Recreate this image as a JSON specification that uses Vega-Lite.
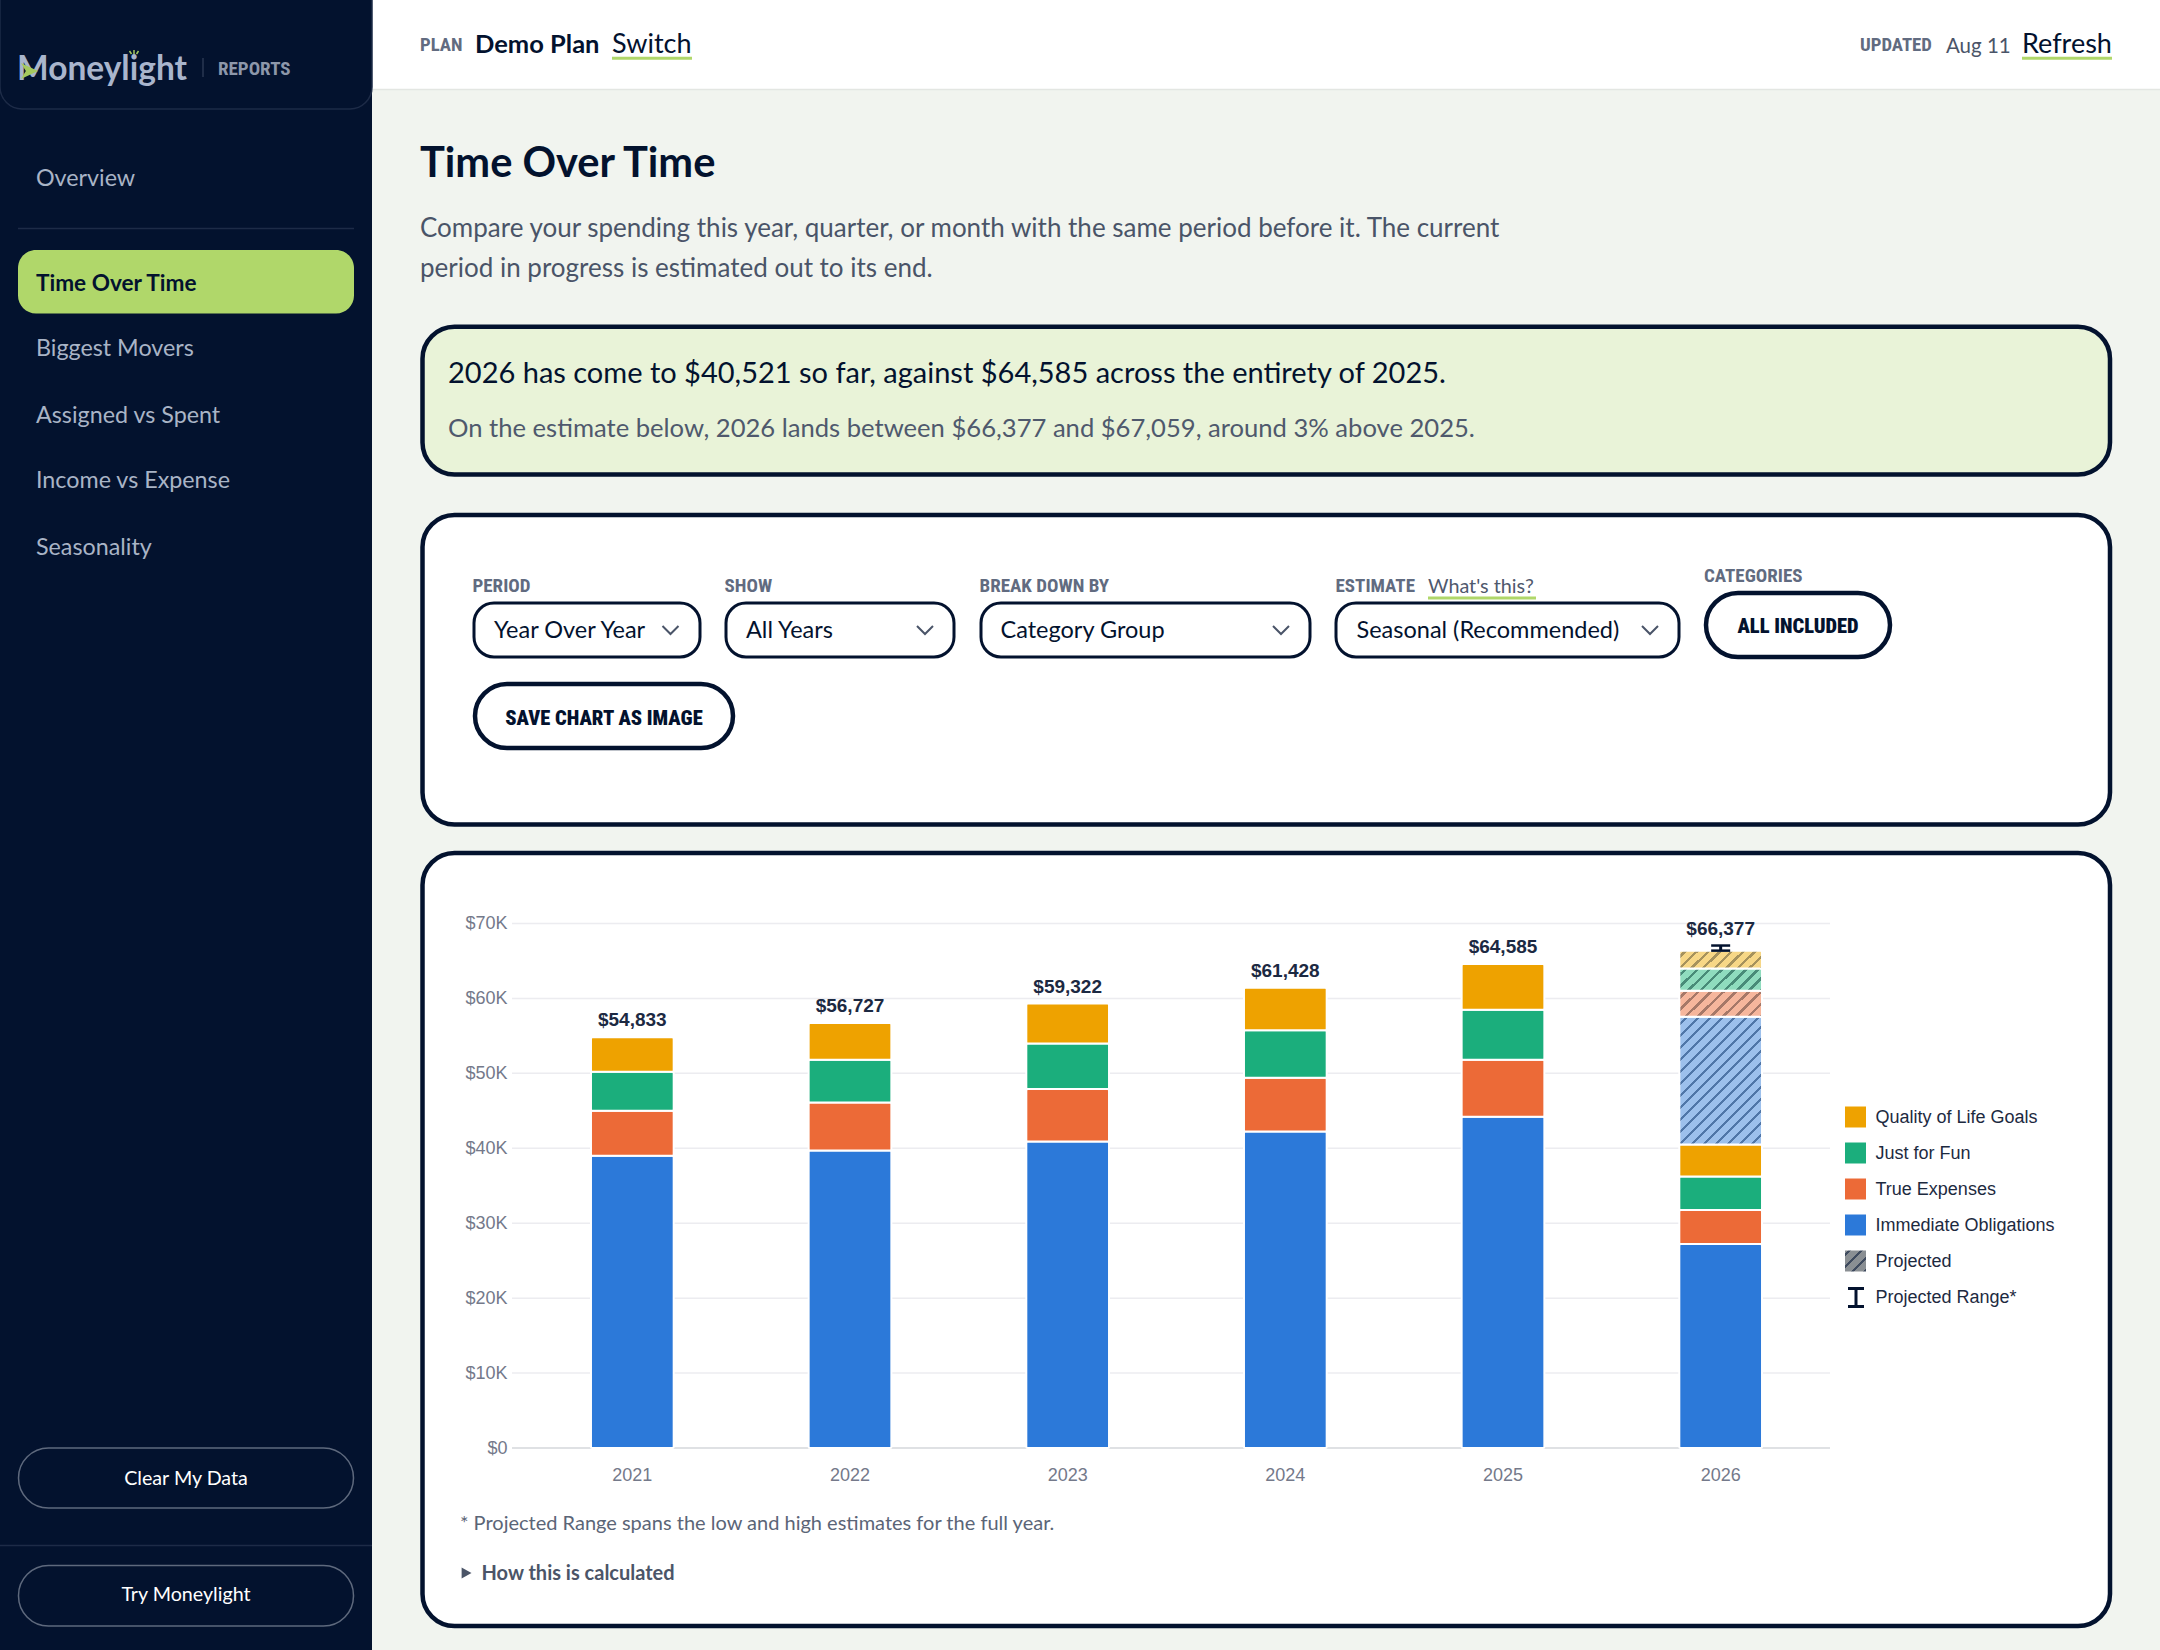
{
  "$schema": "https://vega.github.io/schema/vega-lite/v6.json",
  "width": 1318,
  "height": 524.5,
  "autosize": {"type": "none"},
  "padding": {"left": 512, "top": 923.5, "right": 330, "bottom": 202},
  "background": "#f1f4ef",
  "config": {"view": {"stroke": null}},
  "resolve": {"scale": {"x": "independent", "y": "independent"}, "axis": {"x": "independent", "y": "independent"}},
  "layer": [
    {
      "encoding": {
        "x": {"field": "left", "type": "quantitative", "axis": null, "scale": {"domain": [0, 2160], "range": [-512, 1648]}},
        "y": {"field": "top", "type": "quantitative", "axis": null, "scale": {"domain": [0, 1650], "range": [-923.5, 726.5]}},
        "x2": {"field": "right"},
        "y2": {"field": "bottom"}
      },
      "layer": [
        {
          "data": {"values": [{"left": 0, "right": 372, "top": 0, "bottom": 1650}]},
          "mark": {"type": "rect", "fill": "#03122e"}
        },
        {
          "data": {"values": [{"left": 372, "right": 2160, "top": 0, "bottom": 89}]},
          "mark": {"type": "rect", "fill": "#ffffff"}
        },
        {
          "data": {"values": [{"left": 372, "right": 2160, "top": 89.5, "bottom": 89.5}]},
          "mark": {"type": "rule", "stroke": "#e3e6e2", "strokeWidth": 1.5}
        },
        {
          "data": {"values": [{"left": 0, "right": 372, "top": -40, "bottom": 109}]},
          "mark": {"type": "rect", "fill": "#03122e", "stroke": "#1d2b47", "strokeWidth": 1.5, "cornerRadius": 22}
        },
        {
          "data": {"values": [
            {"left": 18, "right": 354, "top": 228.5, "bottom": 228.5},
            {"left": 0, "right": 372, "top": 1545.5, "bottom": 1545.5}
          ]},
          "mark": {"type": "rule", "stroke": "#1d2b47", "strokeWidth": 1.5}
        },
        {
          "data": {"values": [{"left": 203, "right": 203, "top": 58, "bottom": 77}]},
          "mark": {"type": "rule", "stroke": "#2a3752", "strokeWidth": 1.5}
        },
        {
          "data": {"values": [{"left": 18, "right": 354, "top": 250, "bottom": 313.5}]},
          "mark": {"type": "rect", "fill": "#b0d76a", "cornerRadius": 18}
        },
        {
          "data": {"values": [
            {"left": 18.5, "right": 353.5, "top": 1448, "bottom": 1508},
            {"left": 18.5, "right": 353.5, "top": 1565.5, "bottom": 1626}
          ]},
          "mark": {"type": "rect", "fill": "#03122e", "stroke": "#5e697d", "strokeWidth": 1.5, "cornerRadius": 30}
        },
        {
          "data": {"values": [{"left": 422.5, "right": 2110, "top": 326.7, "bottom": 474.5}]},
          "mark": {"type": "rect", "fill": "#e9f3d8", "stroke": "#03122e", "strokeWidth": 4.5, "cornerRadius": 32}
        },
        {
          "data": {"values": [
            {"left": 422.5, "right": 2110, "top": 515, "bottom": 824.5},
            {"left": 422.5, "right": 2110, "top": 853, "bottom": 1626}
          ]},
          "mark": {"type": "rect", "fill": "#ffffff", "stroke": "#03122e", "strokeWidth": 4.5, "cornerRadius": 32}
        },
        {
          "data": {"values": [
            {"left": 474, "right": 700, "top": 603, "bottom": 657},
            {"left": 726, "right": 954, "top": 603, "bottom": 657},
            {"left": 981, "right": 1310, "top": 603, "bottom": 657},
            {"left": 1336, "right": 1679, "top": 603, "bottom": 657}
          ]},
          "mark": {"type": "rect", "fill": "#ffffff", "stroke": "#03122e", "strokeWidth": 3, "cornerRadius": 20}
        },
        {
          "data": {"values": [
            {"left": 1706, "right": 1890, "top": 593, "bottom": 657},
            {"left": 475, "right": 733, "top": 684, "bottom": 748}
          ]},
          "mark": {"type": "rect", "fill": "#ffffff", "stroke": "#03122e", "strokeWidth": 4.5, "cornerRadius": 32}
        },
        {
          "data": {"values": [
            {"left": 612, "right": 692, "top": 58.3, "bottom": 58.3},
            {"left": 2022, "right": 2112, "top": 58.3, "bottom": 58.3},
            {"left": 1428, "right": 1536, "top": 598, "bottom": 598}
          ]},
          "mark": {"type": "rule", "stroke": "#b0d76a", "strokeWidth": 3}
        },
        {
          "data": {"values": [
            {"left": 670.5, "top": 630},
            {"left": 925, "top": 630},
            {"left": 1281, "top": 630},
            {"left": 1650, "top": 630}
          ]},
          "mark": {"type": "point", "shape": "M-1,-0.5L0,0.5L1,-0.5", "size": 256, "filled": false, "stroke": "#4a5468", "strokeWidth": 2, "opacity": 1}
        },
        {
          "data": {"values": [{"left": 466, "top": 1573}]},
          "mark": {"type": "point", "shape": "M-0.8,-1L1,0L-0.8,1Z", "size": 121, "filled": true, "fill": "#4b5568", "opacity": 1}
        },
        {
          "data": {"values": [{"text": "Moneylight", "left": 17, "top": 69.5}]},
          "mark": {"type": "text", "font": "Lato", "fontSize": 33.5, "fontWeight": "bold", "align": "left", "baseline": "middle", "fill": "#a9b5cc"},
          "encoding": {"text": {"field": "text"}}
        },
        {
          "data": {"values": [{"left": 29, "top": 71}]},
          "mark": {"type": "point", "shape": "M-0.9,-0.9L1,0L-0.9,0.9L-0.35,0Z", "size": 324, "filled": true, "fill": "#a5c95e", "opacity": 1}
        },
        {
          "data": {"values": [
            {"left": 129.5, "right": 131.5, "top": 51, "bottom": 54},
            {"left": 134, "right": 134, "top": 50, "bottom": 54},
            {"left": 138.5, "right": 136.5, "top": 51, "bottom": 54}
          ]},
          "mark": {"type": "rule", "stroke": "#a5c95e", "strokeWidth": 1.5}
        },
        {
          "data": {"values": [{"text": "REPORTS", "left": 218, "top": 68.5}]},
          "mark": {"type": "text", "font": "Roboto Condensed, Roboto", "fontSize": 19, "fontWeight": "bold", "align": "left", "baseline": "middle", "fill": "#8d97aa"},
          "encoding": {"text": {"field": "text"}}
        },
        {
          "data": {"values": [
            {"text": "Overview", "left": 36, "top": 179.4},
            {"text": "Biggest Movers", "left": 36, "top": 349.4},
            {"text": "Assigned vs Spent", "left": 36, "top": 415.9},
            {"text": "Income vs Expense", "left": 36, "top": 481.4},
            {"text": "Seasonality", "left": 36, "top": 547.9}
          ]},
          "mark": {"type": "text", "font": "Lato", "fontSize": 23.3, "align": "left", "baseline": "middle", "fill": "#a9b4c6"},
          "encoding": {"text": {"field": "text"}}
        },
        {
          "data": {"values": [{"text": "Time Over Time", "left": 36, "top": 283.9}]},
          "mark": {"type": "text", "font": "Lato", "fontSize": 22.6, "fontWeight": "bold", "align": "left", "baseline": "middle", "fill": "#03122e"},
          "encoding": {"text": {"field": "text"}}
        },
        {
          "data": {"values": [
            {"text": "Clear My Data", "left": 186, "top": 1479.4},
            {"text": "Try Moneylight", "left": 186, "top": 1595}
          ]},
          "mark": {"type": "text", "font": "Lato", "fontSize": 19.7, "align": "center", "baseline": "middle", "fill": "#ffffff"},
          "encoding": {"text": {"field": "text"}}
        },
        {
          "data": {"values": [
            {"text": "PLAN", "left": 420, "top": 44.5},
            {"text": "UPDATED", "left": 1860, "top": 44.5}
          ]},
          "mark": {"type": "text", "font": "Roboto Condensed, Roboto", "fontSize": 18.8, "fontWeight": "bold", "align": "left", "baseline": "middle", "fill": "#616b80"},
          "encoding": {"text": {"field": "text"}}
        },
        {
          "data": {"values": [
            {"text": "PERIOD", "left": 472.5, "top": 586},
            {"text": "SHOW", "left": 724.5, "top": 586},
            {"text": "BREAK DOWN BY", "left": 979.5, "top": 586},
            {"text": "ESTIMATE", "left": 1335.5, "top": 586},
            {"text": "CATEGORIES", "left": 1704, "top": 576}
          ]},
          "mark": {"type": "text", "font": "Roboto Condensed, Roboto", "fontSize": 19, "fontWeight": "bold", "align": "left", "baseline": "middle", "fill": "#616b80"},
          "encoding": {"text": {"field": "text"}}
        },
        {
          "data": {"values": [{"text": "Demo Plan", "left": 475, "top": 45.4}]},
          "mark": {"type": "text", "font": "Lato", "fontSize": 25.5, "fontWeight": "bold", "align": "left", "baseline": "middle", "fill": "#03122e"},
          "encoding": {"text": {"field": "text"}}
        },
        {
          "data": {"values": [
            {"text": "Switch", "left": 612, "top": 45.4},
            {"text": "Refresh", "left": 2022, "top": 45.4}
          ]},
          "mark": {"type": "text", "font": "Lato", "fontSize": 27, "align": "left", "baseline": "middle", "fill": "#03122e"},
          "encoding": {"text": {"field": "text"}}
        },
        {
          "data": {"values": [{"text": "Aug 11", "left": 1946, "top": 47}]},
          "mark": {"type": "text", "font": "Lato", "fontSize": 20.5, "align": "left", "baseline": "middle", "fill": "#4a5468"},
          "encoding": {"text": {"field": "text"}}
        },
        {
          "data": {"values": [{"text": "Time Over Time", "left": 420, "top": 165.4}]},
          "mark": {"type": "text", "font": "Lato", "fontSize": 41.6, "fontWeight": "bold", "align": "left", "baseline": "middle", "fill": "#03122e"},
          "encoding": {"text": {"field": "text"}}
        },
        {
          "data": {"values": [
            {"text": "Compare your spending this year, quarter, or month with the same period before it. The current", "left": 420, "top": 228.8},
            {"text": "period in progress is estimated out to its end.", "left": 420, "top": 268.8}
          ]},
          "mark": {"type": "text", "font": "Lato", "fontSize": 26, "align": "left", "baseline": "middle", "fill": "#4a5468"},
          "encoding": {"text": {"field": "text"}}
        },
        {
          "data": {"values": [{"text": "2026 has come to $40,521 so far, against $64,585 across the entirety of 2025.", "left": 448, "top": 374.4}]},
          "mark": {"type": "text", "font": "Lato", "fontSize": 29, "align": "left", "baseline": "middle", "fill": "#03122e"},
          "encoding": {"text": {"field": "text"}}
        },
        {
          "data": {"values": [{"text": "On the estimate below, 2026 lands between $66,377 and $67,059, around 3% above 2025.", "left": 448, "top": 428.8}]},
          "mark": {"type": "text", "font": "Lato", "fontSize": 25.6, "align": "left", "baseline": "middle", "fill": "#4f596d"},
          "encoding": {"text": {"field": "text"}}
        },
        {
          "data": {"values": [{"text": "What's this?", "left": 1428, "top": 587}]},
          "mark": {"type": "text", "font": "Lato", "fontSize": 19.8, "align": "left", "baseline": "middle", "fill": "#4f596d"},
          "encoding": {"text": {"field": "text"}}
        },
        {
          "data": {"values": [
            {"text": "Year Over Year", "left": 494, "top": 631.4},
            {"text": "All Years", "left": 746, "top": 631.4},
            {"text": "Category Group", "left": 1000.5, "top": 631.4},
            {"text": "Seasonal (Recommended)", "left": 1356.5, "top": 631.4}
          ]},
          "mark": {"type": "text", "font": "Lato", "fontSize": 23.5, "align": "left", "baseline": "middle", "fill": "#03122e"},
          "encoding": {"text": {"field": "text"}}
        },
        {
          "data": {"values": [
            {"text": "ALL INCLUDED", "left": 1798, "top": 626.5},
            {"text": "SAVE CHART AS IMAGE", "left": 604, "top": 718.5}
          ]},
          "mark": {"type": "text", "font": "Roboto Condensed, Roboto", "fontSize": 20.5, "fontWeight": 900, "align": "center", "baseline": "middle", "fill": "#03122e"},
          "encoding": {"text": {"field": "text"}}
        },
        {
          "data": {"values": [{"text": "* Projected Range spans the low and high estimates for the full year.", "left": 460, "top": 1524}]},
          "mark": {"type": "text", "font": "Lato", "fontSize": 20, "align": "left", "baseline": "middle", "fill": "#5b6577"},
          "encoding": {"text": {"field": "text"}}
        },
        {
          "data": {"values": [{"text": "How this is calculated", "left": 481.5, "top": 1574.4}]},
          "mark": {"type": "text", "font": "Lato", "fontSize": 20, "fontWeight": "bold", "align": "left", "baseline": "middle", "fill": "#4b5568"},
          "encoding": {"text": {"field": "text"}}
        },
        {
          "data": {"values": [
            {"series": "Quality of Life Goals", "left": 1845, "right": 1866, "top": 1106.5, "bottom": 1127.5},
            {"series": "Just for Fun", "left": 1845, "right": 1866, "top": 1142.5, "bottom": 1163.5},
            {"series": "True Expenses", "left": 1845, "right": 1866, "top": 1178.5, "bottom": 1199.5},
            {"series": "Immediate Obligations", "left": 1845, "right": 1866, "top": 1214.5, "bottom": 1235.5}
          ]},
          "mark": {"type": "rect"},
          "encoding": {
            "fill": {"field": "series", "type": "nominal", "legend": null, "scale": {"domain": ["Quality of Life Goals", "Just for Fun", "True Expenses", "Immediate Obligations"], "range": ["#eea200", "#1bae7c", "#ec6a37", "#2c79d9"]}}
          }
        },
        {
          "data": {"values": [{"left": 1845, "right": 1866, "top": 1250.5, "bottom": 1271.5}]},
          "mark": {
            "type": "rect",
            "fill": {
              "gradient": "linear", "x1": 0, "y1": 0, "x2": 1, "y2": 1,
              "stops": [
                {"offset": 0, "color": "#8a8f93"}, {"offset": 0.06, "color": "#8a8f93"}, {"offset": 0.06, "color": "#3f4b5f"}, {"offset": 0.143, "color": "#3f4b5f"},
                {"offset": 0.143, "color": "#8a8f93"}, {"offset": 0.346, "color": "#8a8f93"}, {"offset": 0.346, "color": "#3f4b5f"}, {"offset": 0.429, "color": "#3f4b5f"},
                {"offset": 0.429, "color": "#8a8f93"}, {"offset": 0.632, "color": "#8a8f93"}, {"offset": 0.632, "color": "#3f4b5f"}, {"offset": 0.715, "color": "#3f4b5f"},
                {"offset": 0.715, "color": "#8a8f93"}, {"offset": 0.918, "color": "#8a8f93"}, {"offset": 0.918, "color": "#3f4b5f"}, {"offset": 1, "color": "#3f4b5f"}
              ]
            }
          }
        },
        {
          "data": {"values": [
            {"left": 1848, "right": 1864, "top": 1288.5, "bottom": 1288.5},
            {"left": 1856, "right": 1856, "top": 1288.5, "bottom": 1306.5},
            {"left": 1848, "right": 1864, "top": 1306.5, "bottom": 1306.5}
          ]},
          "mark": {"type": "rule", "stroke": "#03122e", "strokeWidth": 3}
        },
        {
          "data": {"values": [
            {"text": "Quality of Life Goals", "left": 1875.5, "top": 1118.2},
            {"text": "Just for Fun", "left": 1875.5, "top": 1154.2},
            {"text": "True Expenses", "left": 1875.5, "top": 1190.2},
            {"text": "Immediate Obligations", "left": 1875.5, "top": 1226.2},
            {"text": "Projected", "left": 1875.5, "top": 1262.2},
            {"text": "Projected Range*", "left": 1875.5, "top": 1298.2}
          ]},
          "mark": {"type": "text", "font": "Liberation Sans", "fontSize": 18, "align": "left", "baseline": "middle", "fill": "#1d2a3f"},
          "encoding": {"text": {"field": "text"}}
        }
      ]
    },
    {
      "data": {"values": [
        {"year": "2021", "group": "Immediate Obligations", "phase": "actual", "rank": 1, "amount": 39000},
        {"year": "2021", "group": "True Expenses", "phase": "actual", "rank": 2, "amount": 6000},
        {"year": "2021", "group": "Just for Fun", "phase": "actual", "rank": 3, "amount": 5200},
        {"year": "2021", "group": "Quality of Life Goals", "phase": "actual", "rank": 4, "amount": 4633},
        {"year": "2022", "group": "Immediate Obligations", "phase": "actual", "rank": 1, "amount": 39700},
        {"year": "2022", "group": "True Expenses", "phase": "actual", "rank": 2, "amount": 6400},
        {"year": "2022", "group": "Just for Fun", "phase": "actual", "rank": 3, "amount": 5700},
        {"year": "2022", "group": "Quality of Life Goals", "phase": "actual", "rank": 4, "amount": 4927},
        {"year": "2023", "group": "Immediate Obligations", "phase": "actual", "rank": 1, "amount": 40900},
        {"year": "2023", "group": "True Expenses", "phase": "actual", "rank": 2, "amount": 7000},
        {"year": "2023", "group": "Just for Fun", "phase": "actual", "rank": 3, "amount": 6100},
        {"year": "2023", "group": "Quality of Life Goals", "phase": "actual", "rank": 4, "amount": 5322},
        {"year": "2024", "group": "Immediate Obligations", "phase": "actual", "rank": 1, "amount": 42250},
        {"year": "2024", "group": "True Expenses", "phase": "actual", "rank": 2, "amount": 7150},
        {"year": "2024", "group": "Just for Fun", "phase": "actual", "rank": 3, "amount": 6350},
        {"year": "2024", "group": "Quality of Life Goals", "phase": "actual", "rank": 4, "amount": 5678},
        {"year": "2025", "group": "Immediate Obligations", "phase": "actual", "rank": 1, "amount": 44200},
        {"year": "2025", "group": "True Expenses", "phase": "actual", "rank": 2, "amount": 7600},
        {"year": "2025", "group": "Just for Fun", "phase": "actual", "rank": 3, "amount": 6700},
        {"year": "2025", "group": "Quality of Life Goals", "phase": "actual", "rank": 4, "amount": 6085},
        {"year": "2026", "group": "Immediate Obligations", "phase": "actual", "rank": 1, "amount": 27236},
        {"year": "2026", "group": "True Expenses", "phase": "actual", "rank": 2, "amount": 4540},
        {"year": "2026", "group": "Just for Fun", "phase": "actual", "rank": 3, "amount": 4444},
        {"year": "2026", "group": "Quality of Life Goals", "phase": "actual", "rank": 4, "amount": 4301},
        {"year": "2026", "group": "Immediate Obligations", "phase": "projected", "rank": 5, "amount": 17022},
        {"year": "2026", "group": "True Expenses", "phase": "projected", "rank": 6, "amount": 3472},
        {"year": "2026", "group": "Just for Fun", "phase": "projected", "rank": 7, "amount": 2978},
        {"year": "2026", "group": "Quality of Life Goals", "phase": "projected", "rank": 8, "amount": 2384}
      ]},
      "transform": [
        {"stack": "amount", "groupby": ["year"], "sort": [{"field": "rank", "order": "ascending"}], "as": ["base", "peak"]}
      ],
      "layer": [
        {
          "data": {"values": [{"tick": 10000}, {"tick": 20000}, {"tick": 30000}, {"tick": 40000}, {"tick": 50000}, {"tick": 60000}, {"tick": 70000}]},
          "encoding": {"y": {"field": "tick", "type": "quantitative"}},
          "mark": {"type": "rule", "stroke": "#ececf0", "strokeWidth": 1.5}
        },
        {
          "data": {"values": [{"tick": 0}]},
          "encoding": {"y": {"field": "tick", "type": "quantitative"}},
          "mark": {"type": "rule", "stroke": "#d5d7db", "strokeWidth": 1.5}
        },
        {
          "encoding": {
            "x": {
              "field": "year", "type": "ordinal",
              "scale": {"type": "band", "range": [11.5, 1317.5], "paddingInner": 0.62, "paddingOuter": 0.31},
              "axis": {"title": null, "domain": false, "ticks": false, "grid": false, "labelAngle": 0, "labelFont": "Liberation Sans", "labelFontSize": 18, "labelColor": "#74798a", "labelPadding": 18, "zindex": 1}
            },
            "y": {
              "field": "base", "type": "quantitative",
              "scale": {"domain": [0, 70000]},
              "axis": {"title": null, "domain": false, "ticks": false, "grid": false, "values": [0, 10000, 20000, 30000, 40000, 50000, 60000, 70000], "labelExpr": "datum.value === 0 ? '$0' : '$' + datum.value / 1000 + 'K'", "labelFont": "Liberation Sans", "labelFontSize": 18, "labelColor": "#74798a", "labelPadding": 5, "zindex": 1}
            }
          },
          "layer": [
            {
              "transform": [{"filter": "datum.phase === 'actual'"}],
              "mark": {"type": "bar", "stroke": "#ffffff", "strokeWidth": 2, "cornerRadius": 1.5},
              "encoding": {
                "y2": {"field": "peak"},
                "fill": {"field": "group", "type": "nominal", "legend": null}
              }
            },
            {
              "transform": [{"filter": "datum.phase === 'projected' && datum.group === 'Immediate Obligations'"}],
              "mark": {
                "type": "bar", "stroke": "#ffffff", "strokeWidth": 2, "cornerRadius": 1.5,
                "fill": {
                  "gradient": "linear", "x1": 0, "y1": 0, "x2": 0.74, "y2": 1.14,
                  "stops": [
                    {"offset": 0, "color": "#9cc0ec"}, {"offset": 0.03, "color": "#9cc0ec"}, {"offset": 0.03, "color": "#4f76a8"}, {"offset": 0.047, "color": "#4f76a8"},
                    {"offset": 0.047, "color": "#9cc0ec"}, {"offset": 0.088, "color": "#9cc0ec"}, {"offset": 0.088, "color": "#4f76a8"}, {"offset": 0.105, "color": "#4f76a8"},
                    {"offset": 0.105, "color": "#9cc0ec"}, {"offset": 0.146, "color": "#9cc0ec"}, {"offset": 0.146, "color": "#4f76a8"}, {"offset": 0.163, "color": "#4f76a8"},
                    {"offset": 0.163, "color": "#9cc0ec"}, {"offset": 0.204, "color": "#9cc0ec"}, {"offset": 0.204, "color": "#4f76a8"}, {"offset": 0.221, "color": "#4f76a8"},
                    {"offset": 0.221, "color": "#9cc0ec"}, {"offset": 0.262, "color": "#9cc0ec"}, {"offset": 0.262, "color": "#4f76a8"}, {"offset": 0.279, "color": "#4f76a8"},
                    {"offset": 0.279, "color": "#9cc0ec"}, {"offset": 0.32, "color": "#9cc0ec"}, {"offset": 0.32, "color": "#4f76a8"}, {"offset": 0.337, "color": "#4f76a8"},
                    {"offset": 0.337, "color": "#9cc0ec"}, {"offset": 0.378, "color": "#9cc0ec"}, {"offset": 0.378, "color": "#4f76a8"}, {"offset": 0.395, "color": "#4f76a8"},
                    {"offset": 0.395, "color": "#9cc0ec"}, {"offset": 0.436, "color": "#9cc0ec"}, {"offset": 0.436, "color": "#4f76a8"}, {"offset": 0.453, "color": "#4f76a8"},
                    {"offset": 0.453, "color": "#9cc0ec"}, {"offset": 0.494, "color": "#9cc0ec"}, {"offset": 0.494, "color": "#4f76a8"}, {"offset": 0.511, "color": "#4f76a8"},
                    {"offset": 0.511, "color": "#9cc0ec"}, {"offset": 0.552, "color": "#9cc0ec"}, {"offset": 0.552, "color": "#4f76a8"}, {"offset": 0.569, "color": "#4f76a8"},
                    {"offset": 0.569, "color": "#9cc0ec"}, {"offset": 0.61, "color": "#9cc0ec"}, {"offset": 0.61, "color": "#4f76a8"}, {"offset": 0.627, "color": "#4f76a8"},
                    {"offset": 0.627, "color": "#9cc0ec"}, {"offset": 0.668, "color": "#9cc0ec"}, {"offset": 0.668, "color": "#4f76a8"}, {"offset": 0.685, "color": "#4f76a8"},
                    {"offset": 0.685, "color": "#9cc0ec"}, {"offset": 0.726, "color": "#9cc0ec"}, {"offset": 0.726, "color": "#4f76a8"}, {"offset": 0.743, "color": "#4f76a8"},
                    {"offset": 0.743, "color": "#9cc0ec"}, {"offset": 0.784, "color": "#9cc0ec"}, {"offset": 0.784, "color": "#4f76a8"}, {"offset": 0.801, "color": "#4f76a8"},
                    {"offset": 0.801, "color": "#9cc0ec"}, {"offset": 0.842, "color": "#9cc0ec"}, {"offset": 0.842, "color": "#4f76a8"}, {"offset": 0.859, "color": "#4f76a8"},
                    {"offset": 0.859, "color": "#9cc0ec"}, {"offset": 0.9, "color": "#9cc0ec"}, {"offset": 0.9, "color": "#4f76a8"}, {"offset": 0.917, "color": "#4f76a8"},
                    {"offset": 0.917, "color": "#9cc0ec"}, {"offset": 0.958, "color": "#9cc0ec"}, {"offset": 0.958, "color": "#4f76a8"}, {"offset": 0.975, "color": "#4f76a8"},
                    {"offset": 0.975, "color": "#9cc0ec"}, {"offset": 1, "color": "#9cc0ec"}
                  ]
                }
              },
              "encoding": {"y2": {"field": "peak"}}
            },
            {
              "transform": [{"filter": "datum.phase === 'projected' && datum.group === 'True Expenses'"}],
              "mark": {
                "type": "bar", "stroke": "#ffffff", "strokeWidth": 2, "cornerRadius": 1.5,
                "fill": {
                  "gradient": "linear", "x1": 0, "y1": 0, "x2": 1.198, "y2": 0.386,
                  "stops": [
                    {"offset": 0, "color": "#f6b69c"}, {"offset": 0.05, "color": "#f6b69c"}, {"offset": 0.05, "color": "#a67868"}, {"offset": 0.084, "color": "#a67868"},
                    {"offset": 0.084, "color": "#f6b69c"}, {"offset": 0.165, "color": "#f6b69c"}, {"offset": 0.165, "color": "#a67868"}, {"offset": 0.199, "color": "#a67868"},
                    {"offset": 0.199, "color": "#f6b69c"}, {"offset": 0.28, "color": "#f6b69c"}, {"offset": 0.28, "color": "#a67868"}, {"offset": 0.314, "color": "#a67868"},
                    {"offset": 0.314, "color": "#f6b69c"}, {"offset": 0.395, "color": "#f6b69c"}, {"offset": 0.395, "color": "#a67868"}, {"offset": 0.429, "color": "#a67868"},
                    {"offset": 0.429, "color": "#f6b69c"}, {"offset": 0.51, "color": "#f6b69c"}, {"offset": 0.51, "color": "#a67868"}, {"offset": 0.544, "color": "#a67868"},
                    {"offset": 0.544, "color": "#f6b69c"}, {"offset": 0.625, "color": "#f6b69c"}, {"offset": 0.625, "color": "#a67868"}, {"offset": 0.659, "color": "#a67868"},
                    {"offset": 0.659, "color": "#f6b69c"}, {"offset": 0.74, "color": "#f6b69c"}, {"offset": 0.74, "color": "#a67868"}, {"offset": 0.774, "color": "#a67868"},
                    {"offset": 0.774, "color": "#f6b69c"}, {"offset": 0.855, "color": "#f6b69c"}, {"offset": 0.855, "color": "#a67868"}, {"offset": 0.889, "color": "#a67868"},
                    {"offset": 0.889, "color": "#f6b69c"}, {"offset": 0.97, "color": "#f6b69c"}, {"offset": 0.97, "color": "#a67868"}, {"offset": 1, "color": "#a67868"}
                  ]
                }
              },
              "encoding": {"y2": {"field": "peak"}}
            },
            {
              "transform": [{"filter": "datum.phase === 'projected' && datum.group === 'Just for Fun'"}],
              "mark": {
                "type": "bar", "stroke": "#ffffff", "strokeWidth": 2, "cornerRadius": 1.5,
                "fill": {
                  "gradient": "linear", "x1": 0, "y1": 0, "x2": 1.186, "y2": 0.328,
                  "stops": [
                    {"offset": 0, "color": "#8fdcbe"}, {"offset": 0.05, "color": "#8fdcbe"}, {"offset": 0.05, "color": "#488b78"}, {"offset": 0.084, "color": "#488b78"},
                    {"offset": 0.084, "color": "#8fdcbe"}, {"offset": 0.165, "color": "#8fdcbe"}, {"offset": 0.165, "color": "#488b78"}, {"offset": 0.199, "color": "#488b78"},
                    {"offset": 0.199, "color": "#8fdcbe"}, {"offset": 0.28, "color": "#8fdcbe"}, {"offset": 0.28, "color": "#488b78"}, {"offset": 0.314, "color": "#488b78"},
                    {"offset": 0.314, "color": "#8fdcbe"}, {"offset": 0.395, "color": "#8fdcbe"}, {"offset": 0.395, "color": "#488b78"}, {"offset": 0.429, "color": "#488b78"},
                    {"offset": 0.429, "color": "#8fdcbe"}, {"offset": 0.51, "color": "#8fdcbe"}, {"offset": 0.51, "color": "#488b78"}, {"offset": 0.544, "color": "#488b78"},
                    {"offset": 0.544, "color": "#8fdcbe"}, {"offset": 0.625, "color": "#8fdcbe"}, {"offset": 0.625, "color": "#488b78"}, {"offset": 0.659, "color": "#488b78"},
                    {"offset": 0.659, "color": "#8fdcbe"}, {"offset": 0.74, "color": "#8fdcbe"}, {"offset": 0.74, "color": "#488b78"}, {"offset": 0.774, "color": "#488b78"},
                    {"offset": 0.774, "color": "#8fdcbe"}, {"offset": 0.855, "color": "#8fdcbe"}, {"offset": 0.855, "color": "#488b78"}, {"offset": 0.889, "color": "#488b78"},
                    {"offset": 0.889, "color": "#8fdcbe"}, {"offset": 0.97, "color": "#8fdcbe"}, {"offset": 0.97, "color": "#488b78"}, {"offset": 1, "color": "#488b78"}
                  ]
                }
              },
              "encoding": {"y2": {"field": "peak"}}
            },
            {
              "transform": [{"filter": "datum.phase === 'projected' && datum.group === 'Quality of Life Goals'"}],
              "mark": {
                "type": "bar", "stroke": "#ffffff", "strokeWidth": 2, "cornerRadius": 1.5,
                "fill": {
                  "gradient": "linear", "x1": 0, "y1": 0, "x2": 1.1647, "y2": 0.2583,
                  "stops": [
                    {"offset": 0, "color": "#f7d786"}, {"offset": 0.05, "color": "#f7d786"}, {"offset": 0.05, "color": "#a6925c"}, {"offset": 0.084, "color": "#a6925c"},
                    {"offset": 0.084, "color": "#f7d786"}, {"offset": 0.165, "color": "#f7d786"}, {"offset": 0.165, "color": "#a6925c"}, {"offset": 0.199, "color": "#a6925c"},
                    {"offset": 0.199, "color": "#f7d786"}, {"offset": 0.28, "color": "#f7d786"}, {"offset": 0.28, "color": "#a6925c"}, {"offset": 0.314, "color": "#a6925c"},
                    {"offset": 0.314, "color": "#f7d786"}, {"offset": 0.395, "color": "#f7d786"}, {"offset": 0.395, "color": "#a6925c"}, {"offset": 0.429, "color": "#a6925c"},
                    {"offset": 0.429, "color": "#f7d786"}, {"offset": 0.51, "color": "#f7d786"}, {"offset": 0.51, "color": "#a6925c"}, {"offset": 0.544, "color": "#a6925c"},
                    {"offset": 0.544, "color": "#f7d786"}, {"offset": 0.625, "color": "#f7d786"}, {"offset": 0.625, "color": "#a6925c"}, {"offset": 0.659, "color": "#a6925c"},
                    {"offset": 0.659, "color": "#f7d786"}, {"offset": 0.74, "color": "#f7d786"}, {"offset": 0.74, "color": "#a6925c"}, {"offset": 0.774, "color": "#a6925c"},
                    {"offset": 0.774, "color": "#f7d786"}, {"offset": 0.855, "color": "#f7d786"}, {"offset": 0.855, "color": "#a6925c"}, {"offset": 0.889, "color": "#a6925c"},
                    {"offset": 0.889, "color": "#f7d786"}, {"offset": 0.97, "color": "#f7d786"}, {"offset": 0.97, "color": "#a6925c"}, {"offset": 1, "color": "#a6925c"}
                  ]
                }
              },
              "encoding": {"y2": {"field": "peak"}}
            },
            {
              "data": {"values": [{"year": "2026", "low": 66377, "high": 67059}]},
              "mark": {"type": "rule", "stroke": "#03122e", "strokeWidth": 3},
              "encoding": {"y": {"field": "low", "type": "quantitative"}, "y2": {"field": "high"}}
            },
            {
              "data": {"values": [{"year": "2026", "estimate": 66377}, {"year": "2026", "estimate": 67059}]},
              "mark": {"type": "tick", "color": "#03122e", "size": 19, "thickness": 2.5, "opacity": 1},
              "encoding": {"y": {"field": "estimate", "type": "quantitative"}}
            },
            {
              "data": {"values": [
                {"year": "2021", "total": 54833, "high": 54833},
                {"year": "2022", "total": 56727, "high": 56727},
                {"year": "2023", "total": 59322, "high": 59322},
                {"year": "2024", "total": 61428, "high": 61428},
                {"year": "2025", "total": 64585, "high": 64585},
                {"year": "2026", "total": 66377, "high": 67059}
              ]},
              "mark": {"type": "text", "font": "Liberation Sans", "fontSize": 19, "fontWeight": "bold", "baseline": "middle", "dy": -17, "fill": "#1c2942"},
              "encoding": {
                "y": {"field": "high", "type": "quantitative"},
                "text": {"field": "total", "type": "quantitative", "format": "$,"}
              }
            }
          ]
        }
      ]
    }
  ]
}
